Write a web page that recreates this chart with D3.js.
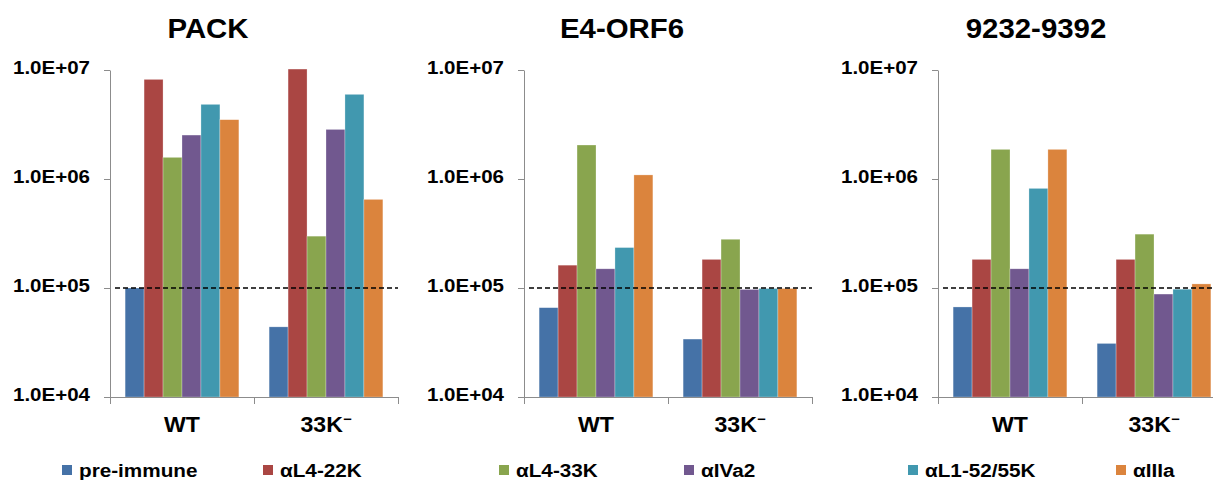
<!DOCTYPE html>
<html>
<head>
<meta charset="utf-8">
<script src="https://cdn.jsdelivr.net/npm/d3@7"></script>
<style>
  body { margin: 0; background: #fff; }
  svg { display: block; font-family: "Liberation Sans", Arial, sans-serif; font-weight: bold; }
</style>
</head>
<body>
<svg id="chart" width="1213" height="480"></svg>
<script>
const titles = ['PACK', 'E4-ORF6', '9232-9392'];
const groups = ['WT', '33K'];
const series = ['pre-immune', 'αL4-22K', 'αL4-33K', 'αIVa2', 'αL1-52/55K', 'αIIIa'];
const colors = ['#4572A7', '#AA4643', '#89A54E', '#71588F', '#4198AF', '#DB843D'];

// values per panel, [WT, 33K-]
const packWT = [1.0e5, 8.2e6, 1.58e6, 2.53e6, 4.84e6, 3.5e6];
const packKO = [4.4e4, 1.02e7, 2.99e5, 2.85e6, 5.98e6, 6.5e5];
const orfWT = [6.6e4, 1.62e5, 2.05e6, 1.5e5, 2.35e5, 1.09e6];
const orfKO = [3.4e4, 1.83e5, 2.8e5, 9.7e4, 9.9e4, 9.9e4];
const regWT = [6.7e4, 1.83e5, 1.87e6, 1.5e5, 8.2e5, 1.87e6];
const regKO = [3.1e4, 1.83e5, 3.12e5, 8.8e4, 9.75e4, 1.09e5];

const yTicks = [1e4, 1e5, 1e6, 1e7];
const yTickLabels = ['1.0E+04', '1.0E+05', '1.0E+06', '1.0E+07'];
const threshold = 1e5;

const panels = [
    {title: titles[0], data: [packWT, packKO]},
    {title: titles[1], data: [orfWT, orfKO]},
    {title: titles[2], data: [regWT, regKO]}
];

const panelLeft = [110, 524, 938];
const panelWidth = 288;
const plotTop = 70, plotBottom = 397;
const axisColor = '#8c8c8c';

const svg = d3.select('#chart');

const y = d3.scaleLog()
    .domain([1e4, 1e7])
    .range([plotBottom, plotTop]);

panels.forEach((p, i) => {
    const x0 = panelLeft[i];
    const x1 = x0 + panelWidth;
    const g = svg.append('g');

    const x = d3.scaleBand()
        .domain(groups)
        .range([x0, x1])
        .paddingInner(0.21)
        .paddingOuter(0.105);

    const xs = d3.scaleBand()
        .domain(series)
        .range([0, x.bandwidth()]);

    // title
    g.append('text')
        .attr('transform', `translate(${(x0 - 98 + x1) / 2 + 3}, 38) scale(1.05,1)`)
        .attr('text-anchor', 'middle')
        .style('font-size', '28px')
        .text(p.title);

    // bars
    const rows = [];
    p.data.forEach((vals, gi) => {
        vals.forEach((v, si) => rows.push({group: groups[gi], key: series[si], color: colors[si], value: v}));
    });

    g.append('g')
        .selectAll('rect')
        .data(rows)
        .join('rect')
        .attr('x', d => x(d.group) + xs(d.key))
        .attr('y', d => y(d.value))
        .attr('width', xs.bandwidth())
        .attr('height', d => plotBottom - y(d.value))
        .attr('fill', d => d.color)
        .attr('stroke', 'rgba(255,255,255,0.45)')
        .attr('stroke-width', 0.6);

    // y axis
    const yAxis = g.append('g')
        .attr('transform', `translate(${x0},0)`)
        .call(d3.axisLeft(y)
            .tickValues(yTicks)
            .tickFormat((d, k) => yTickLabels[k])
            .tickSize(6)
            .tickSizeOuter(0));
    yAxis.select('.domain').attr('stroke', axisColor);
    yAxis.selectAll('.tick line').attr('stroke', axisColor);
    yAxis.selectAll('.tick text')
        .attr('x', -20 / 1.08)
        .attr('dy', '0.18em')
        .attr('transform', 'scale(1.08,1)')
        .attr('fill', '#000')
        .style('font-size', '19px')
        .style('font-family', '"Liberation Sans", Arial, sans-serif')
        .style('font-weight', 'bold');

    // x axis (tick marks at group boundaries)
    const xl = d3.scaleLinear().domain([0, groups.length]).range([x0, x1]);
    const xAxis = g.append('g')
        .attr('transform', `translate(0,${plotBottom})`)
        .call(d3.axisBottom(xl)
            .tickValues(d3.range(groups.length + 1))
            .tickFormat('')
            .tickSize(7)
            .tickSizeOuter(0));
    xAxis.select('.domain').attr('stroke', axisColor);
    xAxis.selectAll('.tick line').attr('stroke', axisColor);

    // group labels
    const lab = g.append('g')
        .selectAll('text')
        .data(groups)
        .join('text')
        .attr('transform', d => `translate(${x(d) + x.bandwidth() / 2},432) scale(1.05,1)`)
        .attr('text-anchor', 'middle')
        .style('font-size', '22px');
    lab.append('tspan').text(d => d);
    lab.filter(d => d === '33K')
        .append('tspan')
        .attr('dy', -8)
        .style('font-size', '14px')
        .text('−');

    // dashed reference line
    g.append('line')
        .attr('x1', x0 + 5)
        .attr('x2', x1)
        .attr('y1', y(threshold))
        .attr('y2', y(threshold))
        .attr('stroke', '#000')
        .attr('stroke-width', 1.5)
        .attr('stroke-dasharray', '5,3');
});

// legend
const legendX = [62, 263, 499, 684, 908, 1116];
const legend = svg.append('g')
    .selectAll('g')
    .data(series)
    .join('g')
    .attr('transform', (d, i) => `translate(${legendX[i]},465)`);

legend.append('rect')
    .attr('width', 10)
    .attr('height', 10)
    .attr('fill', (d, i) => colors[i]);

legend.append('text')
    .attr('transform', 'translate(17,12) scale(1.12,1)')
    .style('font-size', '18.5px')
    .text(d => d);
</script>
</body>
</html>
